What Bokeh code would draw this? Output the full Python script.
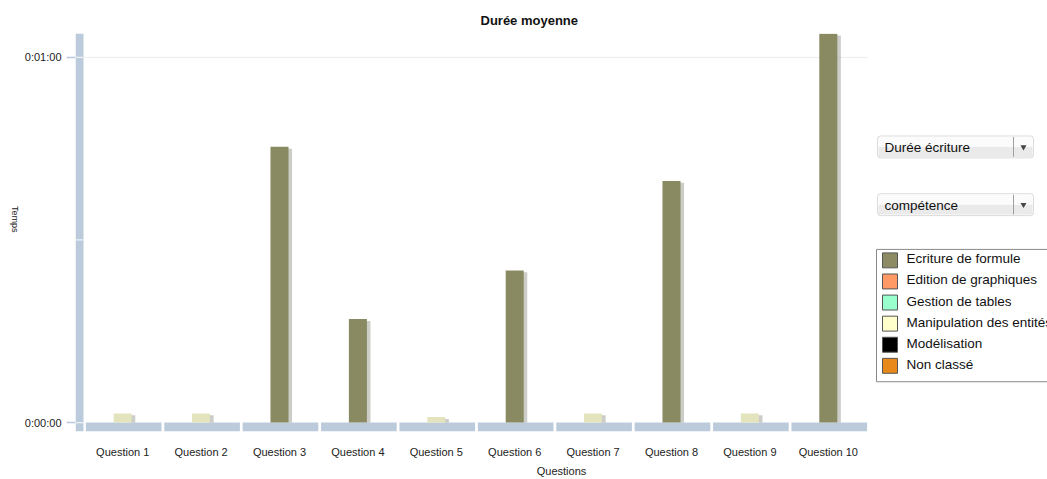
import math
from bokeh.plotting import figure
from bokeh.models import Range1d, FixedTicker, ColumnDataSource, BoxAnnotation
from bokeh.core.properties import value
from bokeh.embed import file_html
from bokeh.resources import INLINE

# ---------------- data ----------------
categories = ["Question 1", "Question 2", "Question 3", "Question 4", "Question 5",
              "Question 6", "Question 7", "Question 8", "Question 9", "Question 10"]
series_names = ["Ecriture de formule", "Edition de graphiques", "Gestion de tables",
                "Manipulation des entités", "Modélisation", "Non classé"]
# average duration in seconds
ecriture_de_formule = [0, 0, 45.3, 17.0, 0, 25.0, 0, 39.7, 0, 63.9]
edition_de_graphiques = [0, 0, 0, 0, 0, 0, 0, 0, 0, 0]
gestion_de_tables = [0, 0, 0, 0, 0, 0, 0, 0, 0, 0]
manipulation_des_entites = [1.5, 1.5, 0, 0, 0.9, 0, 1.5, 0, 1.5, 0]
modelisation = [0, 0, 0, 0, 0, 0, 0, 0, 0, 0]
non_classe = [0, 0, 0, 0, 0, 0, 0, 0, 0, 0]
y_ticks = [0, 60]
y_tick_labels = ["0:00:00", "0:01:00"]
dropdown_labels = ["Durée écriture", "compétence"]
title_text = "Durée moyenne"
x_title = "Questions"
y_title = "Temps"

# ---------------- styles / layout ----------------
FONT = "Liberation Sans"
legend_colors = ["#8c8b63", "#ff9966", "#99ffcc", "#ffffcc", "#000000", "#e8891c"]
bar_colors = ["#8a8a62", "#f39062", "#92f0c2", "#e3e3bd", "#000000", "#e0861c"]
WALL = "#bccbdb"
series_values = [ecriture_de_formule, edition_de_graphiques, gestion_de_tables,
                 manipulation_des_entites, modelisation, non_classe]

W, H = 1047, 479
FL, FR, FT, FB = 75, 1047, 33, 433     # frame edges in page pixels
X0_PX, CAT_PX = 83, 78.4               # first category start / category width
Y0_PX, SEC_PX = 424, 367 / 60.0        # y of zero / pixels per second


def X(px):
    return (px - X0_PX) / CAT_PX


def Y(py):
    return (Y0_PX - py) / SEC_PX


N = len(categories)
p = figure(width=W, height=H,
           x_range=Range1d(X(FL), X(FR)), y_range=Range1d(Y(FB), Y(FT)),
           output_backend="svg", toolbar_location=None,
           min_border_left=FL, min_border_right=0, min_border_top=FT, min_border_bottom=H - FB)
p.outline_line_color = None
p.background_fill_color = "white"

p.title.text = title_text
p.title.text_font = FONT
p.title.text_font_size = "13px"
p.title.text_font_style = "bold"
p.title.text_color = "#111111"
p.title.align = "left"
p.title.offset = 405
p.title.standoff = 12

# y axis
p.yaxis.ticker = FixedTicker(ticks=y_ticks)
p.yaxis.major_label_overrides = {t: l for t, l in zip(y_ticks, y_tick_labels)}
p.yaxis.major_tick_out = 9
p.yaxis.major_tick_in = 0
p.yaxis.minor_tick_line_color = None
p.yaxis.major_tick_line_color = WALL
p.yaxis.major_tick_line_width = 1.5
p.yaxis.axis_line_color = None
p.yaxis.major_label_standoff = 5
p.yaxis.major_label_text_font = FONT
p.yaxis.major_label_text_font_size = "11px"
p.yaxis.major_label_text_color = "#222222"
p.yaxis.axis_label = y_title
p.yaxis.axis_label_text_font = FONT
p.yaxis.axis_label_text_font_size = "9px"
p.yaxis.axis_label_text_font_style = "normal"
p.yaxis.axis_label_text_color = "#222222"
p.yaxis.axis_label_standoff = 7
p.yaxis.axis_label_orientation = -math.pi / 2

# x axis
centers = [i + 0.5 for i in range(N)]
p.xaxis.ticker = FixedTicker(ticks=centers)
p.xaxis.major_label_overrides = {c: lab for c, lab in zip(centers, categories)}
p.xaxis.major_tick_out = 0
p.xaxis.major_tick_in = 0
p.xaxis.minor_tick_line_color = None
p.xaxis.axis_line_color = None
p.xaxis.major_label_standoff = 14
p.xaxis.major_label_text_font = FONT
p.xaxis.major_label_text_font_size = "11px"
p.xaxis.major_label_text_color = "#222222"
p.xaxis.axis_label = x_title
p.xaxis.axis_label_text_font = FONT
p.xaxis.axis_label_text_font_size = "11px"
p.xaxis.axis_label_text_font_style = "normal"
p.xaxis.axis_label_text_color = "#222222"
p.xaxis.axis_label_standoff = 4

p.xgrid.grid_line_color = None
p.ygrid.grid_line_color = None

# gridline at 0:01:00 over the plotting area only
p.segment(x0=[0], x1=[N], y0=[y_ticks[-1]], y1=[y_ticks[-1]], line_color="#ececec", line_width=1)

# 3D wall and floor
p.quad(left=[X(FL)], right=[0.0], bottom=[Y(FB)], top=[Y(FT)], fill_color=WALL, line_color=None)
p.segment(x0=[X(FL)] * 3, x1=[0.0] * 3, y0=[0, 30, 60], y1=[0, 30, 60], line_color="#eef2f6", line_width=1.2)
p.quad(left=[i + 0.03 for i in range(N)], right=[i + 0.995 for i in range(N)],
       bottom=[Y(FB)] * N, top=[0] * N, fill_color=WALL, line_color=None)

# bars (all series share the category position)
BW = 0.23
for vals, col in zip(series_values, bar_colors):
    xs = [c for c, v in zip(centers, vals) if v > 0]
    hs = [v for v in vals if v > 0]
    if not xs:
        continue
    src = ColumnDataSource(dict(x=xs, top=hs))
    p.quad(left=[x + BW / 2 - 0.01 for x in xs], right=[x + BW / 2 + 0.045 for x in xs],
           bottom=[0] * len(xs), top=[h - 0.3 for h in hs],
           fill_color="#8f8f86", fill_alpha=0.45, line_color=None)
    p.vbar(x="x", top="top", bottom=0, width=BW, source=src, fill_color=col, line_color=None)

# ---------------- dropdowns ----------------
dd_tops = [136, 194]
for top, lab in zip(dd_tops, dropdown_labels):
    p.quad(left=[X(878)], right=[X(1032)], top=[Y(top + 1)], bottom=[Y(top + 11)],
           fill_color="#fbfbfb", line_color=None)
    p.quad(left=[X(878)], right=[X(1032)], top=[Y(top + 11)], bottom=[Y(top + 21)],
           fill_color="#eaeaea", line_color=None)
    p.add_layout(BoxAnnotation(left=X(877), right=X(1033), top=Y(top), bottom=Y(top + 22),
                               fill_color=None, line_color="#8c8c8c", line_width=1, border_radius=3))
    p.segment(x0=[X(1013)], x1=[X(1013)], y0=[Y(top + 1)], y1=[Y(top + 21)], line_color="#a0a0a0")
    p.scatter(x=[X(1023)], y=[Y(top + 11)], marker="inverted_triangle", size=6,
              fill_color="#444444", line_color=None)
    p.text(x=[X(884)], y=[Y(top + 11.5)], text=[lab], text_font=value(FONT), text_font_size="13.5px",
           text_baseline="middle", text_color="#111111")

# ---------------- legend ----------------
p.quad(left=[X(876)], right=[X(1100)], top=[Y(250)], bottom=[Y(383)],
       fill_color="white", line_color="#8a8a8a", line_width=1)
row_y = [261 + 21.2 * i for i in range(len(series_names))]
p.quad(left=[X(882)] * len(row_y), right=[X(897)] * len(row_y), top=[Y(y - 7.5) for y in row_y],
       bottom=[Y(y + 7.5) for y in row_y], fill_color=legend_colors, line_color="#555555", line_width=1)
p.text(x=[X(906)] * len(row_y), y=[Y(y - 1.5) for y in row_y], text=series_names, text_font=value(FONT),
       text_font_size="13.5px", text_baseline="middle", text_color="#111111")

open("out.html", "w").write(file_html(p, INLINE))
